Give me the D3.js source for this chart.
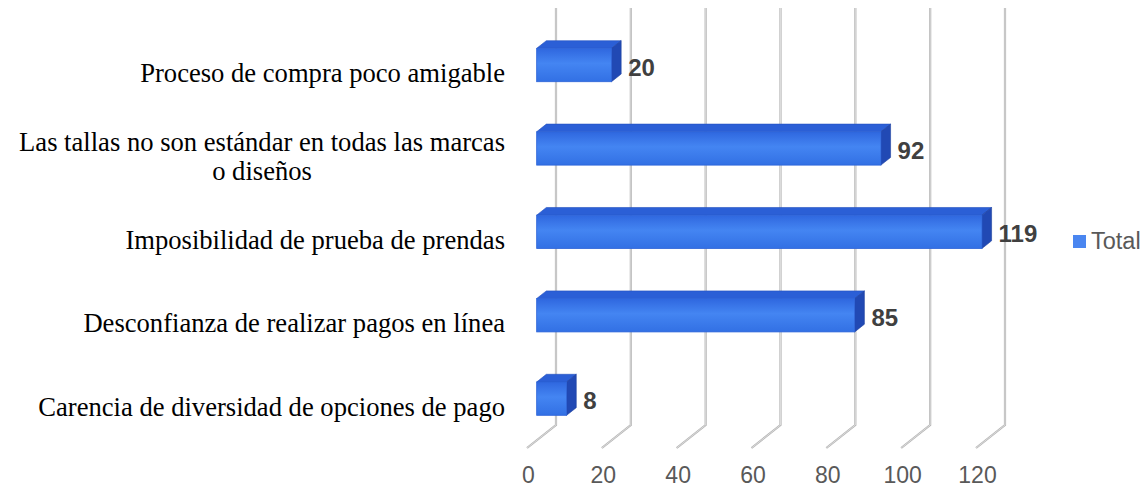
<!DOCTYPE html>
<html>
<head>
<meta charset="utf-8">
<script src="https://cdn.jsdelivr.net/npm/d3@7"></script>
<style>
  html, body { margin: 0; padding: 0; background: #fff; }
  svg { display: block; }
</style>
</head>
<body>
<svg id="chart" width="1145" height="490"></svg>
<script>
// Data
const categories = [
  "Proceso de compra poco amigable",
  "Las tallas no son estándar en todas las marcas|o diseños",
  "Imposibilidad de prueba de prendas",
  "Desconfianza de realizar pagos en línea",
  "Carencia de diversidad de opciones de pago"
];
const values = [20, 92, 119, 85, 8];
const tickValues = [0, 20, 40, 60, 80, 100, 120];
const seriesName = "Total";

const svg = d3.select("#chart");

// 3D box geometry: front plane plus a depth offset toward the back wall
const depthDX = 29, depthDY = -23;
const off = d => [depthDX * d, depthDY * d];

const x = d3.scaleLinear().domain([0, 120]).range([527, 976]);
const y = d3.scaleBand().domain(categories).range([31, 448]).padding(0);
const barH = y.bandwidth() / 2.5;
const d0 = 1 / 3, d1 = 2 / 3;

const defs = svg.append("defs");
const gFront = defs.append("linearGradient").attr("id", "gFront")
  .attr("x1", 0).attr("y1", 0).attr("x2", 0).attr("y2", 1);
gFront.append("stop").attr("offset", "0%").attr("stop-color", "#2f67df");
gFront.append("stop").attr("offset", "45%").attr("stop-color", "#4485f2");
gFront.append("stop").attr("offset", "100%").attr("stop-color", "#3270e4");

// Grid lines: vertical on the back wall, then diagonal across the floor
const grid = svg.append("g");
tickValues.forEach(t => {
  const xb = x(t) + off(1)[0];
  const yTop = y.range()[0] + off(1)[1];
  const yFloorBack = y.range()[1] + off(1)[1];
  const p = `M${xb},${yTop} L${xb},${yFloorBack} L${x(t)},${y.range()[1]}`;
  grid.append("path").attr("d", p).attr("fill", "none")
    .attr("stroke", "#b4b4b4").attr("stroke-width", 2.2);
  grid.append("path").attr("d", p).attr("fill", "none")
    .attr("stroke", "#e4e4e4").attr("stroke-width", 0.8);
});

// Bars
const bars = svg.append("g");
categories.forEach((c, i) => {
  const v = values[i];
  const cy = y(c) + y.bandwidth() / 2;
  const [fx, fy] = off(d0);
  const [bx, by] = off(d1);
  const xl = x(0), xr = x(v);
  const top = cy - barH / 2, bot = cy + barH / 2;
  // top face
  bars.append("polygon")
    .attr("points", [[xl + fx, top + fy], [xr + fx, top + fy], [xr + bx, top + by], [xl + bx, top + by]].join(" "))
    .attr("fill", "#2b5fd6").attr("stroke", "#2450c0").attr("stroke-width", 0.6);
  // side face
  bars.append("polygon")
    .attr("points", [[xr + fx, top + fy], [xr + bx, top + by], [xr + bx, bot + by], [xr + fx, bot + fy]].join(" "))
    .attr("fill", "#2149b4").attr("stroke", "#1c3f9e").attr("stroke-width", 0.6);
  // front face
  bars.append("rect")
    .attr("x", xl + fx).attr("y", top + fy)
    .attr("width", xr - xl).attr("height", barH)
    .attr("fill", "url(#gFront)").attr("stroke", "#2c63d8").attr("stroke-width", 0.8);
  // value label
  svg.append("text")
    .attr("x", xr + bx + 7).attr("y", cy + off(0.25)[1])
    .attr("dy", "0.36em")
    .attr("font-family", "Liberation Sans, Arial, sans-serif")
    .attr("font-weight", "bold").attr("font-size", 24)
    .attr("fill", "#404040")
    .text(v);
});

// Category labels (right aligned block, wrapped lines centred)
const labelRight = 505;
categories.forEach(c => {
  const lines = c.split("|");
  const cy = y(c) + y.bandwidth() / 2;
  const lh = 29;
  const g = svg.append("g");
  const texts = lines.map((ln, k) => g.append("text")
    .attr("y", cy + (k - (lines.length - 1) / 2) * lh)
    .attr("dy", "0.35em")
    .attr("font-family", "Liberation Serif, Times New Roman, serif")
    .attr("font-size", 26.6)
    .attr("fill", "#000")
    .attr("text-anchor", "middle")
    .text(ln));
  const w = d3.max(texts, t => t.node().getComputedTextLength());
  texts.forEach(t => t.attr("x", labelRight - w / 2));
});

// Value axis tick labels along the floor front edge
svg.append("g").selectAll("text").data(tickValues).join("text")
  .attr("x", d => x(d) + 1.5).attr("y", 483)
  .attr("text-anchor", "middle")
  .attr("font-family", "Liberation Sans, Arial, sans-serif")
  .attr("font-size", 23)
  .attr("fill", "#595959")
  .text(d => d);

// Legend
const lg = svg.append("g");
lg.append("rect").attr("x", 1073).attr("y", 235).attr("width", 13).attr("height", 13)
  .attr("fill", "#4a86f0");
lg.append("text").attr("x", 1091).attr("y", 249)
  .attr("font-family", "Liberation Sans, Arial, sans-serif")
  .attr("font-size", 23.5).attr("fill", "#595959")
  .text(seriesName);
</script>
</body>
</html>
